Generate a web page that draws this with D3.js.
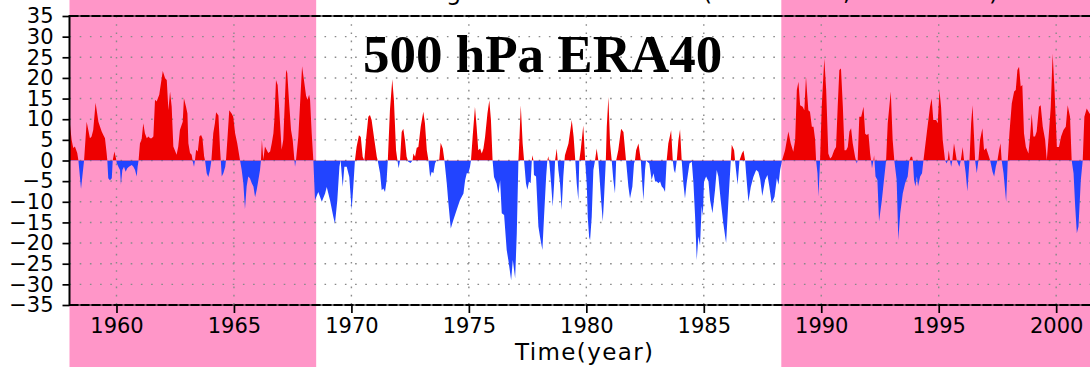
<!DOCTYPE html>
<html>
<head>
<meta charset="utf-8">
<script src="https://cdn.jsdelivr.net/npm/d3@7"></script>
<style>
  html, body { margin: 0; padding: 0; background: #fff; }
  svg { display: block; }
</style>
</head>
<body>
<div id="chart"></div>
<script>
// monthly-ish index (decimal year, value)
const times = [
  1958.00, 1958.09, 1958.16, 1958.23, 1958.33, 1958.38, 1958.49, 1958.62, 1958.73, 1958.80,
  1958.87, 1958.94, 1959.01, 1959.11, 1959.23, 1959.30, 1959.37, 1959.44, 1959.51, 1959.58,
  1959.61, 1959.65, 1959.72, 1959.80, 1959.84, 1959.91, 1959.98, 1960.01, 1960.08, 1960.15,
  1960.19, 1960.25, 1960.32, 1960.39, 1960.46, 1960.53, 1960.65, 1960.72, 1960.79, 1960.86,
  1960.90, 1960.94, 1961.00, 1961.07, 1961.14, 1961.21, 1961.29, 1961.36, 1961.43, 1961.50,
  1961.57, 1961.64, 1961.71, 1961.82, 1961.97, 1962.07, 1962.14, 1962.21, 1962.28, 1962.35,
  1962.42, 1962.56, 1962.63, 1962.70, 1962.82, 1962.87, 1962.96, 1963.02, 1963.06, 1963.13,
  1963.20, 1963.24, 1963.30, 1963.34, 1963.39, 1963.46, 1963.53, 1963.60, 1963.66, 1963.73,
  1963.77, 1963.84, 1963.91, 1963.98, 1964.04, 1964.12, 1964.19, 1964.24, 1964.34, 1964.41,
  1964.44, 1964.48, 1964.55, 1964.63, 1964.66, 1964.72, 1964.80, 1964.90, 1964.97, 1965.05,
  1965.14, 1965.23, 1965.26, 1965.33, 1965.40, 1965.47, 1965.54, 1965.61, 1965.68, 1965.76,
  1965.83, 1965.90, 1965.97, 1966.04, 1966.11, 1966.15, 1966.19, 1966.25, 1966.32, 1966.39,
  1966.46, 1966.54, 1966.61, 1966.68, 1966.72, 1966.79, 1966.86, 1966.93, 1967.03, 1967.10,
  1967.22, 1967.27, 1967.34, 1967.43, 1967.50, 1967.56, 1967.60, 1967.64, 1967.74, 1967.90,
  1967.98, 1968.07, 1968.13, 1968.20, 1968.24, 1968.31, 1968.38,
  1968.45, 1968.59, 1968.74, 1968.88, 1968.95, 1969.09, 1969.23, 1969.30, 1969.40, 1969.49,
  1969.54, 1969.63, 1969.70, 1969.80, 1969.91, 1970.01, 1970.08, 1970.15, 1970.22, 1970.32,
  1970.40, 1970.48, 1970.55, 1970.62, 1970.72, 1970.79, 1970.86, 1970.96, 1971.08, 1971.12,
  1971.22, 1971.29, 1971.36, 1971.43, 1971.50, 1971.55, 1971.64, 1971.74, 1971.81, 1971.90,
  1971.96, 1972.01, 1972.07, 1972.14, 1972.21, 1972.28, 1972.35, 1972.42, 1972.52, 1972.60,
  1972.64, 1972.71, 1972.78, 1972.85, 1972.95, 1973.06, 1973.13, 1973.21, 1973.28, 1973.35,
  1973.42, 1973.49, 1973.56, 1973.63, 1973.74, 1973.80, 1973.89, 1973.96, 1974.06, 1974.13,
  1974.23, 1974.34, 1974.48, 1974.62, 1974.77, 1974.84, 1974.91, 1974.98, 1975.05, 1975.09,
  1975.16, 1975.26, 1975.33, 1975.40, 1975.48, 1975.55, 1975.62, 1975.69, 1975.79, 1975.87,
  1975.94, 1976.01, 1976.07, 1976.18, 1976.26, 1976.33, 1976.40, 1976.50,
  1976.61, 1976.68, 1976.80, 1976.87, 1976.97, 1977.04, 1977.11, 1977.15, 1977.21, 1977.29,
  1977.35, 1977.43, 1977.49, 1977.56, 1977.63, 1977.68, 1977.70, 1977.75, 1977.77, 1977.86,
  1977.96, 1978.03, 1978.13, 1978.20, 1978.29, 1978.34, 1978.38, 1978.43, 1978.50, 1978.57,
  1978.63, 1978.67, 1978.74, 1978.78, 1978.81, 1978.88, 1978.95, 1979.02, 1979.07, 1979.09,
  1979.24, 1979.38, 1979.46, 1979.53, 1979.59, 1979.66, 1979.70, 1979.76, 1979.87, 1979.95,
  1980.02, 1980.06, 1980.12, 1980.16, 1980.23, 1980.30, 1980.37, 1980.44, 1980.51, 1980.56,
  1980.63, 1980.70, 1980.75, 1980.83, 1980.87, 1980.94, 1981.01, 1981.08, 1981.15, 1981.22,
  1981.27, 1981.36, 1981.48, 1981.58, 1981.69, 1981.79, 1981.86, 1981.96, 1982.03, 1982.07,
  1982.12, 1982.22, 1982.32, 1982.36, 1982.43, 1982.50, 1982.54, 1982.68, 1982.78, 1982.86,
  1982.93, 1983.00, 1983.07, 1983.14, 1983.21, 1983.28, 1983.35, 1983.42, 1983.49, 1983.61,
  1983.68, 1983.73, 1983.78, 1983.85, 1983.92, 1983.99, 1984.06, 1984.13, 1984.20, 1984.27,
  1984.39, 1984.49, 1984.56, 1984.63, 1984.70, 1984.77, 1984.84, 1984.91, 1984.96, 1985.01,
  1985.10, 1985.20, 1985.27, 1985.37, 1985.48, 1985.55, 1985.62, 1985.72, 1985.83, 1985.95,
  1986.05, 1986.15,
  1986.19, 1986.29, 1986.33, 1986.37, 1986.44, 1986.52, 1986.62, 1986.69, 1986.76, 1986.80,
  1986.90, 1987.00, 1987.11, 1987.23, 1987.32, 1987.40, 1987.49, 1987.61, 1987.71, 1987.79,
  1987.89, 1988.01, 1988.11, 1988.18, 1988.25, 1988.33,
  1988.46, 1988.60, 1988.70, 1988.81, 1988.89, 1988.96, 1989.03, 1989.10, 1989.21, 1989.28,
  1989.35, 1989.45, 1989.52, 1989.60, 1989.67, 1989.74, 1989.78, 1989.84, 1989.88, 1989.95,
  1990.02, 1990.13, 1990.21, 1990.30, 1990.38, 1990.45, 1990.55, 1990.63, 1990.70, 1990.77,
  1990.84, 1990.92, 1990.99, 1991.06, 1991.13, 1991.20, 1991.27, 1991.34, 1991.44, 1991.51,
  1991.55, 1991.62, 1991.70, 1991.80, 1991.87, 1991.94, 1992.01, 1992.08, 1992.12, 1992.16,
  1992.22, 1992.25, 1992.31, 1992.39, 1992.46, 1992.58, 1992.67, 1992.76, 1992.83, 1992.96,
  1993.04, 1993.11, 1993.21, 1993.28, 1993.36, 1993.47, 1993.57, 1993.68, 1993.75, 1993.81,
  1993.87, 1993.90, 1993.95, 1994.01, 1994.07, 1994.12, 1994.21, 1994.29, 1994.35, 1994.49,
  1994.63, 1994.70, 1994.77, 1994.89, 1994.96, 1995.03, 1995.10, 1995.17, 1995.27, 1995.34,
  1995.38, 1995.43, 1995.48, 1995.53, 1995.58, 1995.65, 1995.77, 1995.88, 1995.94, 1996.02,
  1996.08, 1996.15, 1996.22, 1996.31, 1996.38, 1996.44, 1996.51, 1996.55, 1996.62, 1996.69,
  1996.76, 1996.86, 1996.93, 1997.02, 1997.12, 1997.19, 1997.29, 1997.36, 1997.43, 1997.50,
  1997.57, 1997.63, 1997.68, 1997.76, 1997.87, 1997.94, 1998.01, 1998.11, 1998.21, 1998.28,
  1998.35, 1998.42, 1998.49, 1998.56, 1998.63, 1998.71, 1998.82, 1998.89, 1998.96, 1999.03,
  1999.10, 1999.17, 1999.27, 1999.34, 1999.43, 1999.53, 1999.60, 1999.68, 1999.77, 1999.85,
  1999.93, 2000.03, 2000.12, 2000.21, 2000.31, 2000.41, 2000.49, 2000.59, 2000.66, 2000.74,
  2000.81, 2000.88, 2000.95, 2001.05, 2001.13, 2001.20, 2001.30, 2001.42, 2001.55
];

const values = [
  9.8, 5.0, 3.0, 3.4, 1.8, 0, -6.9, 0, 9.4, 7.4,
  5.4, 5.8, 7.4, 14.0, 9.4, 8.2, 7.0, 6.2, 5.4, 1.8,
  0, -4.3, -4.8, -4.3, 0, 2.2, 0.5, -0.6, -1.5, -2.3,
  -5.9, -2.3, -1.5, -2.7, -1.9, -1.5, -1.1, -1.5, -2.3, -3.9,
  -1.5, 0, 4.2, 5.0, 9.0, 6.6, 5.4, 5.8, 5.4, 5.4,
  5.8, 14.7, 14.3, 15.9, 21.7, 19.9, 19.5, 12.2, 16.7, 13.0,
  3.4, 1.4, 3.4, 7.4, 9.4, 15.1, 13.0, 11.4, 4.2, 1.8,
  1.4, 0, -1.5, 0, 2.6, 2.2, 5.8, 6.2, 5.4, 1.0,
  0, -3.1, -4.0, -2.3, 0, 6.6, 9.0, 11.7, 10.9, 2.6,
  0, -3.9, -3.1, -1.5, 0, 5.0, 12.2, 11.4, 10.6, 6.6,
  4.2, 1.0, 0, -2.3, -5.5, -11.8, -6.3, -3.9, -4.3, -5.5,
  -6.3, -8.9, -7.1, -4.7, -2.3, 0, 5.0, 0.2, 3.4, 2.6,
  1.8, 2.2, 4.2, 6.6, 9.8, 19.5, 18.3, 12.2, 2.6, 5.0,
  22.0, 21.2, 14.7, 7.4, 5.0, 1.0, -1.5, 0, 5.8, 22.8,
  19.5, 15.7, 14.7, 15.9, 14.7, 6.6, 0,
  -9.6, -7.6, -10.0, -8.0, -6.4, -9.6, -13.6, -15.3, -9.6, -1.5,
  0.1, -6.4, -1.5, -1.5, -4.0, -12.0, -6.4, 0, 3.3, 6.1,
  5.7, 0.9, 0, 4.9, 10.6, 11.0, 9.8, 5.7, 0.9, 0,
  -3.1, -7.2, -6.8, -7.6, -4.8, 0, 12.2, 19.7, 14.6, 2.5,
  0, -1.9, 0, 6.9, 7.7, 4.9, 0.9, -0.3, -0.6, 0,
  1.7, 0.9, 3.1, 3.3, 8.2, 11.8, 9.0, 2.5, 0, -4.0,
  -2.7, -3.1, -0.7, 0.1, 0.2, 4.3, 2.9, 0, -5.6, -10.4,
  -16.5, -14.4, -12.0, -9.6, -8.0, -4.8, -3.1, -3.1, -1.5, 0,
  5.7, 13.0, 8.2, 2.5, 2.9, 1.7, 2.9, 5.7, 11.4, 14.6,
  9.8, 0, -4.0, -5.6, -8.0, -4.8, -12.8, -13.2,
  -21.7, -24.1, -29.0, -24.1, -28.5, -17.6, 0, 5.0, 13.4, 4.1,
  0, -5.5, -7.1, -5.1, -5.5, 0, 1.3, 0, -3.5, -3.9,
  -16.0, -18.5, -21.7, -13.6, -3.9, 0, 1.0, -0.7, -5.5, -11.2,
  -5.5, 0, 2.9, 0, -2.3, -5.5, -12.0, -3.9, 0, 1.3,
  4.1, 9.8, 5.7, 0, -5.5, -9.6, 0, 2.5, 8.5, 0,
  -6.0, -13.6, -18.5, -19.3, -13.6, -2.3, 0, 2.9, 0, -3.9,
  -9.6, -14.8, -9.6, 0, 8.2, 15.4, 4.1, 0, -4.7, -8.0,
  0, 2.5, 7.7, 6.9, 0, -6.3, -9.2, -6.3, -0.7, 0,
  2.5, 4.1, 0, -3.9, -9.6, -2.3, 0, -0.7, -4.7, -3.1,
  -5.1, -5.1, -5.5, -5.1, -6.3, -6.7, -7.6, 0, 4.1, 7.3,
  0, -2.3, -3.1, 0, 4.9, 7.5, 0, -5.5, -9.2, -5.5,
  -0.7, -0.3, -5.5, -13.6, -24.1, -18.4, -20.5, -11.0, -13.5, -5.0,
  -3.9, -5.1, -9.6, -12.8, -7.1, -2.3, -3.9, -9.6, -15.2, -20.0,
  -9.6, 0,
  3.8, 2.5, 0, -2.3, -5.9, 0, 1.7, 2.4, 0, -3.1,
  -10.0, -6.4, -4.0, -2.3, -2.7, -4.5, -8.6, -4.7, -3.5, -6.3,
  -10.4, -8.8, -4.3, -5.9, -2.3, 0,
  2.5, 7.0, 4.2, 2.1, 5.0, 17.1, 19.1, 13.4, 13.0, 12.2,
  20.3, 12.2, 11.8, 8.2, 8.2, 5.0, 0, -3.1, -8.8, 0,
  13.0, 24.7, 17.1, 1.7, 0.5, 0.9, 2.5, 3.3, 13.0, 21.9,
  22.3, 13.0, 2.5, 2.5, 3.3, 7.0, 7.8, 4.2, 0.9, -0.7,
  0, 10.6, 10.6, 13.0, 6.5, 6.2, 6.5, 1.7, 0, -1.9,
  0, 1.3, -3.9, -4.7, -14.8, -9.6, -4.7, 0, 9.0, 16.7,
  5.0, 0, -4.7, -19.3, -12.9, -8.0, -5.5, -3.9, 0, 0.9,
  0.9, 0, -4.7, -6.3, -3.9, -6.3, -3.9, -3.1, 0, 6.6,
  13.0, 15.0, 9.8, 9.8, 9.0, 17.1, 13.0, 5.0, 0, -0.7,
  0, 2.5, 0, -1.5, 0, 4.2, 0, -1.5, 0, 3.3,
  0, -3.1, -7.5, 0, 9.0, 13.4, 5.0, 0, -3.1, 0,
  5.0, 7.8, 2.5, 3.0, 1.3, 0, -2.7, -3.9, -1.5, 0,
  2.5, 4.2, 0, -3.1, -10.0, 0, 6.6, 13.8, 16.7, 17.1,
  21.9, 22.7, 17.9, 18.3, 6.6, 3.3, 1.7, 5.8, 11.4, 5.8,
  5.8, 7.0, 13.0, 13.4, 8.2, 5.0, 0, 5.8, 13.0, 25.9,
  17.1, 3.3, 3.3, 5.8, 7.4, 8.2, 13.4, 10.6, 0, -3.1,
  -11.2, -17.6, -16.0, -4.7, 0, 10.6, 12.6, 11.4, 11.0
];

const yTicks = [-35, -30, -25, -20, -15, -10, -5, 0, 5, 10, 15, 20, 25, 30, 35];
const xTicks = [1960, 1965, 1970, 1975, 1980, 1985, 1990, 1995, 2000];
const periods = [[1958, 1968.5], [1988.3, 2003]];
const plotTitle = '500 hPa ERA40';
const mainTitle = 'Strength index at 500 hPa (1958-1968, 1988-2001)';
const xLabel = 'Time(year)';

const W = 1090, H = 367;
const data = times.map((t, i) => ({ t: t, v: values[i] }));

const x = d3.scaleLinear().domain([1958, 2001.44]).range([69.5, 1090]);
const y = d3.scaleLinear().domain([-35, 35]).range([305, 16]);

const svg = d3.select('#chart').append('svg')
  .attr('width', W)
  .attr('height', H)
  .attr('viewBox', [0, 0, W, H]);

svg.append('rect').attr('width', W).attr('height', H).attr('fill', '#fff');

// shaded periods run over the whole picture height
svg.append('g')
  .selectAll('rect')
  .data(periods)
  .join('rect')
  .attr('x', d => x(d[0]))
  .attr('width', d => Math.min(x(d[1]), W) - x(d[0]))
  .attr('y', 0)
  .attr('height', H)
  .attr('fill', '#ff96c8');

// main title sits above the picture; only its descenders reach into view
svg.append('text')
  .attr('x', 382)
  .attr('y', -0.5)
  .attr('font-family', 'DejaVu Sans')
  .attr('font-size', 24)
  .attr('fill', '#000')
  .text(mainTitle);

// dotted grid
const grid = svg.append('g')
  .attr('stroke', '#8a8a8a')
  .attr('stroke-width', 1.4);

grid.selectAll('line.h')
  .data(yTicks.filter(d => d > -35 && d < 35))
  .join('line')
  .attr('class', 'h')
  .attr('x1', x.range()[0])
  .attr('x2', W)
  .attr('y1', d => y(d))
  .attr('y2', d => y(d))
  .attr('stroke-dasharray', '1.6 8.6');

grid.selectAll('line.v')
  .data(xTicks)
  .join('line')
  .attr('class', 'v')
  .attr('x1', d => x(d))
  .attr('x2', d => x(d))
  .attr('y1', y(35))
  .attr('y2', y(-35))
  .attr('stroke-dasharray', '1.6 6.6');

// red above zero, blue below
const defs = svg.append('defs');
defs.append('clipPath').attr('id', 'clip-pos')
  .append('rect')
  .attr('x', x.range()[0]).attr('width', W - x.range()[0])
  .attr('y', y(35)).attr('height', y(0) - y(35));
defs.append('clipPath').attr('id', 'clip-neg')
  .append('rect')
  .attr('x', x.range()[0]).attr('width', W - x.range()[0])
  .attr('y', y(0)).attr('height', y(-35) - y(0));

const area = d3.area()
  .x(d => x(d.t))
  .y0(y(0))
  .y1(d => y(d.v));

svg.append('path')
  .datum(data)
  .attr('clip-path', 'url(#clip-pos)')
  .attr('fill', '#ee0000')
  .attr('d', area);

svg.append('path')
  .datum(data)
  .attr('clip-path', 'url(#clip-neg)')
  .attr('fill', '#2244ff')
  .attr('d', area);

// axes
const fmt = d => d < 0 ? '\u2212' + Math.abs(d) : String(d);

const yAxis = svg.append('g')
  .attr('transform', `translate(${x.range()[0]},0)`)
  .call(d3.axisLeft(y).tickValues(yTicks).tickSize(7).tickSizeOuter(0).tickPadding(9).tickFormat(fmt));

const xAxis = svg.append('g')
  .attr('transform', `translate(0,${y(-35)})`)
  .call(d3.axisBottom(x).tickValues(xTicks).tickSize(8).tickSizeOuter(0).tickPadding(5).tickFormat(d3.format('d')));

[yAxis, xAxis].forEach(g => {
  g.select('.domain').remove();
  g.selectAll('.tick line').attr('stroke', '#000').attr('stroke-width', 1.7);
  g.selectAll('.tick text')
    .attr('fill', '#000')
    .attr('font-family', 'DejaVu Sans')
    .attr('font-size', 21);
});

// frame lines: solid with a dashed overlay, like the original
[y(35), y(-35)].forEach(yy => {
  svg.append('line')
    .attr('x1', x.range()[0]).attr('x2', W)
    .attr('y1', yy).attr('y2', yy)
    .attr('stroke', '#000').attr('stroke-width', 1);
  svg.append('line')
    .attr('x1', x.range()[0]).attr('x2', W)
    .attr('y1', yy).attr('y2', yy)
    .attr('stroke', '#000').attr('stroke-width', 2.2)
    .attr('stroke-dasharray', '9 2');
});

svg.append('line')
  .attr('x1', x.range()[0]).attr('x2', x.range()[0])
  .attr('y1', y(35) - 1).attr('y2', y(-35) + 1)
  .attr('stroke', '#000').attr('stroke-width', 2);

svg.append('text')
  .attr('x', 363)
  .attr('y', 72)
  .attr('font-family', 'Liberation Serif, Times New Roman, serif')
  .attr('font-weight', 'bold')
  .attr('font-size', 53)
  .attr('fill', '#000')
  .text(plotTitle);

svg.append('text')
  .attr('x', 515)
  .attr('y', 360)
  .attr('font-family', 'DejaVu Sans')
  .attr('font-size', 23)
  .attr('textLength', 138)
  .attr('lengthAdjust', 'spacing')
  .attr('fill', '#000')
  .text(xLabel);
</script>
</body>
</html>
